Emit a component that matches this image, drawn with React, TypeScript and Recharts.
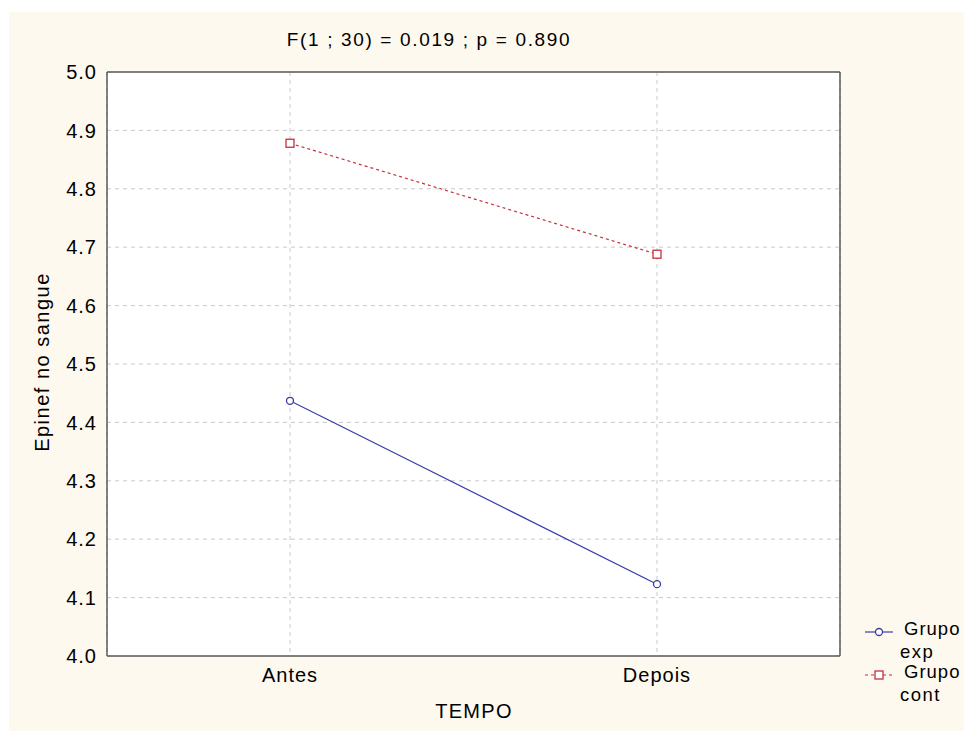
import React from 'react';
import { LineChart, Line, XAxis, YAxis, CartesianGrid } from 'recharts';

const categories = ['Antes', 'Depois'];
const grupoExp = [4.437, 4.123];
const grupoCont = [4.878, 4.688];
const yTicks = [4.0, 4.1, 4.2, 4.3, 4.4, 4.5, 4.6, 4.7, 4.8, 4.9, 5.0];
const seriesNames = ['Grupo exp', 'Grupo cont'];
const titleText = 'F(1 ; 30) = 0.019 ; p = 0.890';
const xLabel = 'TEMPO';
const yLabel = 'Epinef no sangue';

const data = categories.map((c, i) => ({ tempo: c, exp: grupoExp[i], cont: grupoCont[i] }));

const BLUE = '#3b3ba6';
const RED = '#c4303c';
const FRAME = '#5a5a5a';
const FONT = '"Liberation Sans", Arial, sans-serif';
const TXT = { fontFamily: FONT, fontSize: 20, fill: '#000', letterSpacing: 1 } as const;

const SquareDot = (props: any) => {
  const { cx, cy, index } = props;
  return (
    <rect key={`sq-${index}`} x={cx - 4} y={cy - 4} width={8} height={8} fill="#fff" stroke={RED} strokeWidth={1.3} />
  );
};

export default function App() {
  const [expName, contName] = seriesNames;
  const legendRows = [
    { name: expName, color: BLUE, dash: undefined as string | undefined, kind: 'circle', y: 620 },
    { name: contName, color: RED, dash: '3 3', kind: 'square', y: 663 },
  ];
  return (
    <div style={{ width: 964, height: 731, paddingTop: 12, paddingLeft: 9, boxSizing: 'border-box', background: '#fff' }}>
      <style>{'body{margin:0}'}</style>
      <div style={{ width: 955, height: 719, background: '#FDF9EF' }}>
        <LineChart width={955} height={719} data={data} margin={{ top: 59, right: 123, bottom: 35, left: 38 }}>
          <CartesianGrid stroke="#c8c8c8" strokeDasharray="4 4" fill="#ffffff" />
          <XAxis
            dataKey="tempo"
            padding={{ left: 183, right: 183 }}
            axisLine={{ stroke: FRAME, strokeWidth: 1.5 }}
            tickLine={false}
            tickSize={0}
            tickMargin={12}
            height={40}
            tick={TXT}
          />
          <XAxis
            xAxisId="top"
            dataKey="tempo"
            orientation="top"
            padding={{ left: 183, right: 183 }}
            axisLine={{ stroke: FRAME, strokeWidth: 1.5 }}
            tick={false}
            tickLine={false}
            height={1}
          />
          <YAxis
            domain={[4, 5]}
            ticks={yTicks}
            tickFormatter={(v: number) => v.toFixed(1)}
            axisLine={{ stroke: FRAME, strokeWidth: 1.5 }}
            tickLine={false}
            tickSize={0}
            tickMargin={10}
            width={60}
            tick={TXT}
            interval={0}
          />
          <YAxis
            yAxisId="right"
            orientation="right"
            domain={[4, 5]}
            ticks={yTicks}
            axisLine={{ stroke: FRAME, strokeWidth: 1.5 }}
            tick={false}
            tickLine={false}
            width={1}
          />
          <Line
            type="linear"
            dataKey="exp"
            name={expName}
            stroke={BLUE}
            strokeWidth={1.2}
            dot={{ r: 3.5, fill: '#fff', stroke: BLUE, strokeWidth: 1.3 }}
            isAnimationActive={false}
          />
          <Line
            type="linear"
            dataKey="cont"
            name={contName}
            stroke={RED}
            strokeWidth={1.2}
            strokeDasharray="3 3"
            dot={SquareDot}
            isAnimationActive={false}
          />
          <text x={420} y={34} textAnchor="middle" {...TXT} fontSize={19} letterSpacing={1.65}>
            {titleText}
          </text>
          <text x={40} y={350} textAnchor="middle" transform="rotate(-90, 40, 350)" {...TXT} letterSpacing={1.5}>
            {yLabel}
          </text>
          <text x={465} y={706} textAnchor="middle" {...TXT} letterSpacing={1.3}>
            {xLabel}
          </text>
          <g>
            {legendRows.map((r) => {
              const [l1, l2] = r.name.split(' ');
              return (
                <g key={r.name}>
                  <line x1={856} x2={884} y1={r.y} y2={r.y} stroke={r.color} strokeWidth={1.2} strokeDasharray={r.dash} />
                  {r.kind === 'circle' ? (
                    <circle cx={870} cy={r.y} r={3.5} fill="#fff" stroke={r.color} strokeWidth={1.3} />
                  ) : (
                    <rect x={866} y={r.y - 4} width={8} height={8} fill="#fff" stroke={r.color} strokeWidth={1.3} />
                  )}
                  <text x={895} y={r.y + 3} {...TXT} fontSize={18.5} letterSpacing={1}>{l1}</text>
                  <text x={891} y={r.y + 26} {...TXT} fontSize={18.5} letterSpacing={1.5}>{l2}</text>
                </g>
              );
            })}
          </g>
        </LineChart>
      </div>
    </div>
  );
}
